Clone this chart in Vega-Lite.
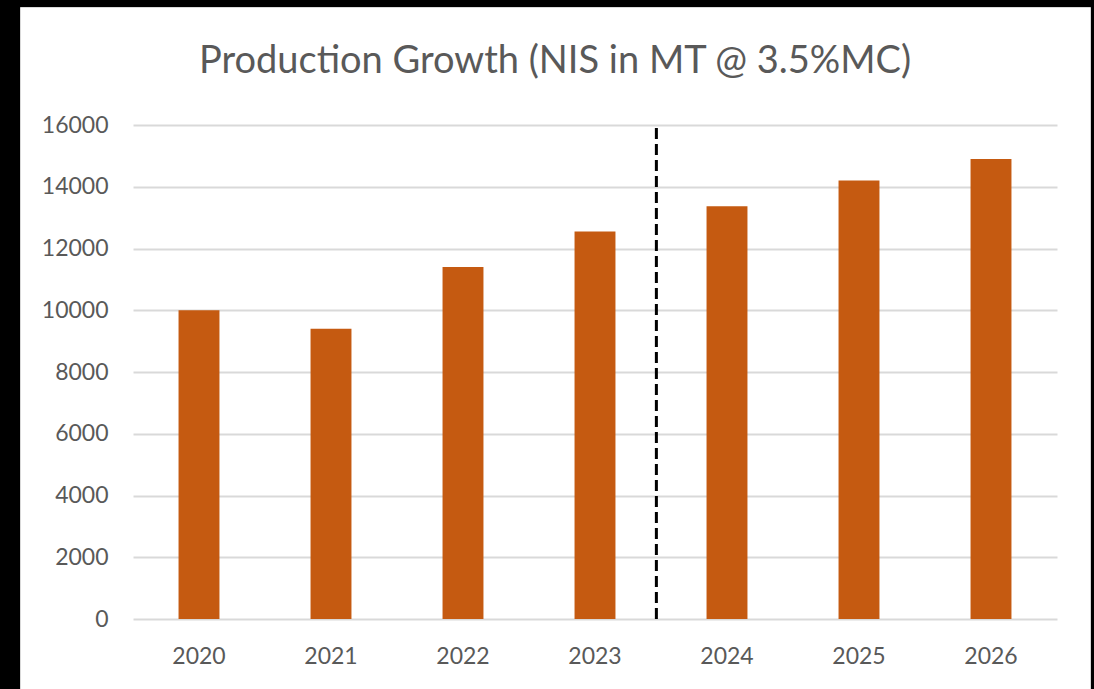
{
  "$schema": "https://vega.github.io/schema/vega-lite/v6.json",
  "width": 1070,
  "height": 682,
  "autosize": "none",
  "padding": {"left": 20, "top": 7, "right": 4, "bottom": 0},
  "background": "black",
  "config": {
    "view": {"fill": "white", "stroke": "#d9d9d9", "strokeWidth": 1},
    "font": "Lato"
  },
  "title": {
    "text": "Production Growth (NIS in MT @ 3.5%MC)",
    "fontSize": 38,
    "font": "Lato",
    "fontWeight": "normal",
    "color": "#595959",
    "anchor": "middle",
    "offset": -74
  },
  "data": {
    "values": [
      {"year": "2020", "value": 10000},
      {"year": "2021", "value": 9400},
      {"year": "2022", "value": 11400},
      {"year": "2023", "value": 12550},
      {"year": "2024", "value": 13370},
      {"year": "2025", "value": 14200},
      {"year": "2026", "value": 14900}
    ]
  },
  "layer": [
    {
      "mark": {"type": "bar", "color": "#C55A11"},
      "encoding": {
        "x": {
          "field": "year",
          "type": "nominal",
          "sort": null,
          "scale": {"range": [113, 1037], "paddingInner": 0.69, "paddingOuter": 0.345},
          "axis": {
            "title": null,
            "labelAngle": 0,
            "domain": false,
            "ticks": false,
            "tickSize": 0,
            "grid": false,
            "offset": -70,
            "labelPadding": 26,
            "labelFont": "Lato",
            "labelFontSize": 23,
            "labelColor": "#595959"
          }
        },
        "y": {
          "field": "value",
          "type": "quantitative",
          "scale": {"domain": [0, 16000], "range": [612, 118], "nice": false},
          "axis": {
            "title": null,
            "domain": false,
            "ticks": false,
            "tickSize": 0,
            "grid": true,
            "gridColor": "#d9d9d9",
            "gridWidth": 2,
            "offset": -88,
            "labelPadding": 0,
            "values": [0, 2000, 4000, 6000, 8000, 10000, 12000, 14000, 16000],
            "format": "d",
            "labelFont": "Lato",
            "labelFontSize": 23,
            "labelColor": "#595959"
          }
        }
      }
    },
    {
      "data": {"values": [{"year": "2023"}]},
      "mark": {"type": "rule", "strokeDash": [11, 5], "strokeWidth": 3, "color": "black"},
      "encoding": {
        "x": {"field": "year", "type": "nominal", "bandPosition": 2},
        "y": {"datum": 15900},
        "y2": {"datum": 0}
      }
    }
  ]
}
